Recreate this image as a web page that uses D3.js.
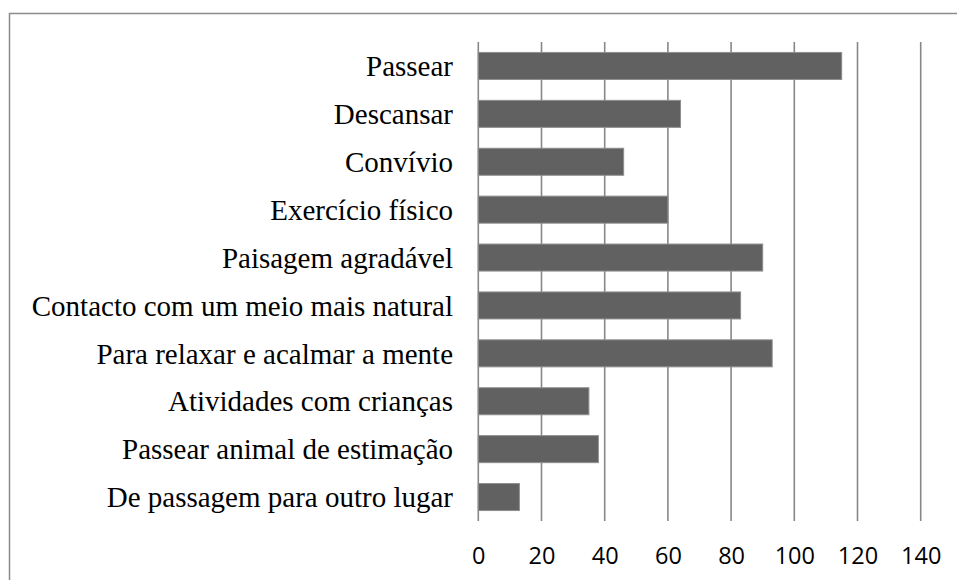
<!DOCTYPE html>
<html>
<head>
<meta charset="utf-8">
<script src="https://cdn.jsdelivr.net/npm/d3@7"></script>
<style>
    body { margin: 0; background: #fff; }
    svg { display: block; }
    .cat-label { font-family: "Liberation Serif", "Tinos", "DejaVu Serif", "Noto Serif", serif; }
    .tick-label { font-family: "Open Sans", "Lato", sans-serif; }
</style>
</head>
<body>
<div id="chart"></div>
<script>
// categories, top to bottom as in the picture
var categories = [
    "Passear",
    "Descansar",
    "Convívio",
    "Exercício físico",
    "Paisagem agradável",
    "Contacto com um meio mais natural",
    "Para relaxar e acalmar a mente",
    "Atividades com crianças",
    "Passear animal de estimação",
    "De passagem para outro lugar"
];
var values = [115, 64, 46, 60, 90, 83, 93, 35, 38, 13];
var xTicks = [0, 20, 40, 60, 80, 100, 120, 140];

var width = 957,
    height = 580;

var svg = d3.select("#chart")
            .append("svg")
                .attr("width", width)
                .attr("height", height);

// outer frame (right and bottom edges fall outside the picture)
svg.append("rect")
    .attr("x", 9.5)
    .attr("y", 13.5)
    .attr("width", 1000)
    .attr("height", 1000)
    .style("fill", "none")
    .style("stroke", "#8c8c8c")
    .style("stroke-width", 1.5);

var x = d3.scaleLinear()
            .domain([0, 140])
            .range([478.3, 920.7]);

var y = d3.scaleBand()
            .domain(categories)
            .range([42, 521])
            .paddingInner(0.436)
            .paddingOuter(0.218);

// vertical grid lines
svg.append("g")
    .selectAll("line")
    .data(xTicks)
    .enter()
    .append("line")
        .attr("x1", function(d) { return x(d); })
        .attr("x2", function(d) { return x(d); })
        .attr("y1", 42)
        .attr("y2", 521)
        .style("stroke", "#878787")
        .style("stroke-width", 1.6);

// bars
svg.append("g")
    .selectAll("rect")
    .data(values)
    .enter()
    .append("rect")
        .attr("x", x(0))
        .attr("y", function(d, i) { return y(categories[i]); })
        .attr("width", function(d) { return x(d) - x(0); })
        .attr("height", y.bandwidth())
        .style("fill", "#616161")
        .style("stroke", "#8e8e8e")
        .style("stroke-width", 1);

// category labels
svg.append("g")
    .selectAll("text")
    .data(categories)
    .enter()
    .append("text")
        .attr("class", "cat-label")
        .attr("x", 453)
        .attr("y", function(d) { return y(d) + y.bandwidth() / 2; })
        .attr("dy", "0.35em")
        .attr("text-anchor", "end")
        .style("font-size", "29px")
        .style("fill", "#000")
        .text(function(d) { return d; });

// x axis tick labels, no axis line
var xAxis = d3.axisBottom(x)
                .tickValues(xTicks)
                .tickSize(0)
                .tickPadding(0);

var gx = svg.append("g")
            .attr("transform", "translate(0,564)")
            .call(xAxis);
gx.select(".domain").remove();
gx.attr("font-family", null);
gx.selectAll("text")
    .attr("class", "tick-label")
    .attr("y", 0)
    .attr("dy", 0)
    .style("font-size", "23.5px")
    .style("fill", "#000");
</script>
</body>
</html>
